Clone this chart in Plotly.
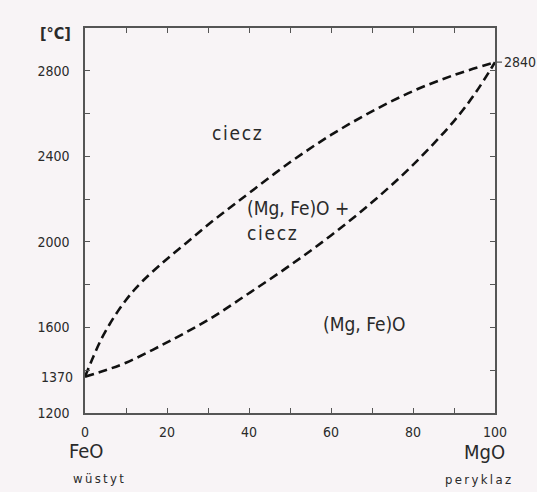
import plotly.graph_objects as go

# Composition, mol % MgO
liquidus_x = [0, 2, 4, 6, 8, 10, 12, 14, 17, 20, 25, 30, 35, 40, 50, 60, 70, 80, 90, 100]
liquidus_t = [1370, 1462, 1546, 1615, 1675, 1728, 1775, 1816, 1870, 1920, 2000, 2080, 2155, 2228,
              2372, 2500, 2610, 2705, 2780, 2840]

solidus_x = [0, 5, 10, 20, 30, 40, 50, 60, 70, 80, 90, 95, 100]
solidus_t = [1370, 1400, 1435, 1530, 1635, 1760, 1890, 2030, 2185, 2360, 2565, 2690, 2840]

x_tickvals = [0, 10, 20, 30, 40, 50, 60, 70, 80, 90, 100]
x_ticktext = ["0", "", "20", "", "40", "", "60", "", "80", "", "100"]
y_tickvals = [1200, 1400, 1600, 1800, 2000, 2200, 2400, 2600, 2800]
y_ticktext = ["1200", "", "1600", "", "2000", "", "2400", "", "2800"]

FONT = "DejaVu Sans Condensed, Liberation Sans Narrow, DejaVu Sans, sans-serif"
INK = "#2a2a2a"
BG = "#f8f4f6"

fig = go.Figure()
for xs, ts in [(liquidus_x, liquidus_t), (solidus_x, solidus_t)]:
    fig.add_trace(go.Scatter(
        x=xs, y=ts, mode="lines",
        line=dict(color="#111111", width=2.6, dash="9px,5px", shape="spline", smoothing=1.0),
        hoverinfo="skip", showlegend=False,
    ))

axis_common = dict(
    showgrid=False, zeroline=False, showline=True, linecolor="#555555", linewidth=1.5,
    mirror="allticks", ticks="inside", ticklen=5, tickwidth=1.2, tickcolor="#555555",
    tickfont=dict(family=FONT, size=14, color=INK),
)
fig.update_xaxes(range=[0, 100], tickmode="array", tickvals=x_tickvals, ticktext=x_ticktext,
                 ticklabelstandoff=5, **axis_common)
fig.update_yaxes(range=[1200, 3000], tickmode="array", tickvals=y_tickvals, ticktext=y_ticktext,
                 ticklabelstandoff=11, **axis_common)

ann = []
def txt(text, x, y, size, xanchor="center", yanchor="middle", xref="paper", yref="paper"):
    ann.append(dict(text=text, x=x, y=y, xref=xref, yref=yref, showarrow=False,
                    xanchor=xanchor, yanchor=yanchor,
                    font=dict(family=FONT, size=size, color=INK)))

HS = "\u200a"
# region labels (data coordinates)
txt(HS.join("ciecz"), 37, 2510, 19, xref="x", yref="y")
txt("(Mg, Fe)O +", 39, 2158, 19, xanchor="left", xref="x", yref="y")
txt(HS.join("ciecz"), 39, 2041, 19, xanchor="left", xref="x", yref="y")
txt("(Mg, Fe)O", 57.5, 1616, 19, xanchor="left", xref="x", yref="y")

# melting point of FeO on the temperature axis
ann.append(dict(text="1370", x=0, y=1370, xref="x", yref="y", showarrow=False,
                xanchor="right", yanchor="middle", xshift=-10,
                font=dict(family=FONT, size=14, color=INK)))

# axis captions (pixel-based paper positions)
W, H = 537, 492
L, R, T, B = 85, 42, 28, 79
pw, ph = W - L - R, H - T - B
def px(xp):
    return (xp - L) / pw
def py(yp):
    return (H - B - yp) / ph

TS = "\u2009"
txt("<b>[°C]</b>", px(55), py(33), 16)
txt("FeO", px(86), py(451), 20)
txt(TS.join("wüstyt"), px(98), py(478), 13)
txt("MgO", px(484), py(452), 20)
txt(TS.join("peryklaz"), px(478), py(479), 13)

ann.append(dict(text="2840", x=100, y=2840, xref="x", yref="y", showarrow=True,
                arrowhead=0, arrowwidth=1.2, arrowcolor="#555555", ax=7, ay=0,
                xanchor="left", yanchor="middle",
                font=dict(family=FONT, size=14, color=INK)))

fig.update_layout(
    width=W, height=H,
    margin=dict(l=L, r=R, t=T, b=B),
    paper_bgcolor=BG, plot_bgcolor=BG,
    annotations=ann,
)

fig.write_html("out.html")
